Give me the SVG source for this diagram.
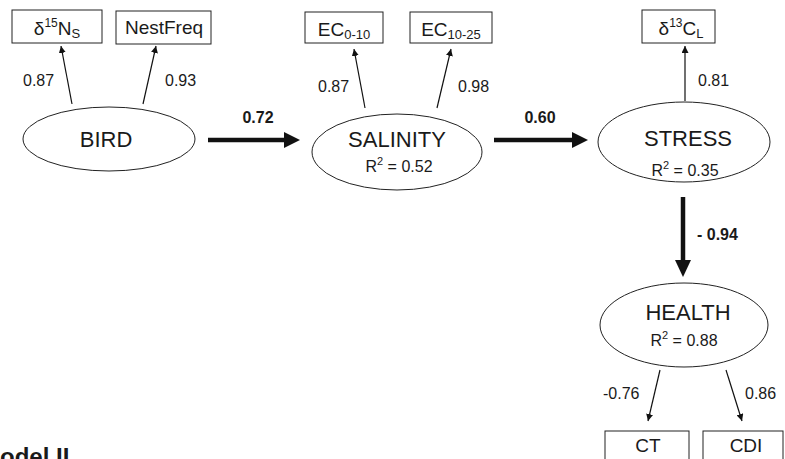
<svg xmlns="http://www.w3.org/2000/svg" width="785" height="459" viewBox="0 0 785 459">
<style>
text{font-family:"Liberation Sans",Arial,sans-serif;fill:#1a1a1a}
.box{fill:#fff;stroke:#222;stroke-width:1}
.ell{fill:#fff;stroke:#222;stroke-width:1}
.bt{font-size:19px;text-anchor:middle}
.nt{font-size:22px;text-anchor:middle}
.rt{font-size:16px;text-anchor:middle}
.lab{font-size:16px}
.blab{font-size:16px;font-weight:bold}
.thin{stroke:#111;stroke-width:1.2;fill:none}
.thick{stroke:#111;stroke-width:4.5;fill:none}
</style>
<defs>
<marker id="ah" viewBox="0 0 10 10" refX="10" refY="5" markerWidth="7" markerHeight="7" markerUnits="userSpaceOnUse" orient="auto"><path d="M0,0 L10,5 L0,10 z" fill="#111"/></marker>
</defs>

<g id="connectors">
<line class="thin" x1="72" y1="104" x2="61" y2="46" marker-end="url(#ah)"/>
<line class="thin" x1="143" y1="104" x2="156" y2="46" marker-end="url(#ah)"/>
<line class="thin" x1="365" y1="108" x2="354" y2="49" marker-end="url(#ah)"/>
<line class="thin" x1="437" y1="108" x2="451" y2="49" marker-end="url(#ah)"/>
<line class="thin" x1="685" y1="101" x2="685" y2="46" marker-end="url(#ah)"/>
<line class="thin" x1="660" y1="370" x2="648" y2="421" marker-end="url(#ah)"/>
<line class="thin" x1="726" y1="370" x2="742" y2="421" marker-end="url(#ah)"/>
<line class="thick" x1="208" y1="140" x2="290" y2="140"/>
<path d="M284,132 L300,140 L284,148 z" fill="#111"/>
<line class="thick" x1="494" y1="140" x2="578" y2="140"/>
<path d="M572,132 L588,140 L572,148 z" fill="#111"/>
<line class="thick" x1="683" y1="197" x2="683" y2="266"/>
<path d="M675,260 L683,277 L691,260 z" fill="#111"/>
<text class="lab" x="23" y="86">0.87</text>
<text class="lab" x="165" y="86">0.93</text>
<text class="lab" x="318" y="92">0.87</text>
<text class="lab" x="458" y="92">0.98</text>
<text class="lab" x="698" y="86">0.81</text>
<text class="lab" x="603" y="399">-0.76</text>
<text class="lab" x="745" y="399">0.86</text>
<text class="blab" x="258" y="123" text-anchor="middle">0.72</text>
<text class="blab" x="540" y="123" text-anchor="middle">0.60</text>
<text class="blab" x="697" y="240">- 0.94</text>
</g>

<g id="box-d15N">
<rect class="box" x="12" y="10" width="90" height="33"/>
<text class="bt" x="57" y="35">δ<tspan font-size="12" dy="-8">15</tspan><tspan dy="8">N</tspan><tspan font-size="13" dy="3">S</tspan></text>
</g>
<g id="box-nestfreq">
<rect class="box" x="116" y="11" width="95" height="33"/>
<text class="bt" x="164" y="34" font-size="18">NestFreq</text>
</g>
<g id="box-ec010">
<rect class="box" x="305" y="12" width="78" height="31"/>
<text class="bt" x="344" y="36">EC<tspan font-size="13" dy="3">0-10</tspan></text>
</g>
<g id="box-ec1025">
<rect class="box" x="410" y="12" width="82" height="31"/>
<text class="bt" x="451" y="36">EC<tspan font-size="13" dy="3">10-25</tspan></text>
</g>
<g id="box-d13C">
<rect class="box" x="642" y="10" width="73" height="33"/>
<text class="bt" x="681" y="35">δ<tspan font-size="12" dy="-8">13</tspan><tspan dy="8">C</tspan><tspan font-size="13" dy="3">L</tspan></text>
</g>
<g id="box-ct">
<rect class="box" x="605" y="431" width="84" height="40"/>
<text class="bt" x="648" y="452">CT</text>
</g>
<g id="box-cdi">
<rect class="box" x="703" y="431" width="80" height="40"/>
<text class="bt" x="746" y="452">CDI</text>
</g>

<g id="bird">
<ellipse class="ell" cx="109" cy="139" rx="86" ry="32"/>
<text class="nt" x="106" y="147">BIRD</text>
</g>
<g id="salinity">
<ellipse class="ell" cx="397" cy="152" rx="85" ry="38"/>
<text class="nt" x="397" y="147">SALINITY</text>
<text class="rt" x="399" y="172">R<tspan font-size="11" dy="-7">2</tspan><tspan dy="7"> = 0.52</tspan></text>
</g>
<g id="stress">
<ellipse class="ell" cx="684" cy="142" rx="86" ry="40"/>
<text class="nt" x="688" y="146">STRESS</text>
<text class="rt" x="685" y="176">R<tspan font-size="11" dy="-7">2</tspan><tspan dy="7"> = 0.35</tspan></text>
</g>
<g id="health">
<ellipse class="ell" cx="684" cy="325" rx="84" ry="42"/>
<text class="nt" x="688" y="320">HEALTH</text>
<text class="rt" x="684" y="346">R<tspan font-size="11" dy="-7">2</tspan><tspan dy="7"> = 0.88</tspan></text>
</g>

<text x="-20" y="465" font-size="24" font-weight="bold">Model II</text>
</svg>
